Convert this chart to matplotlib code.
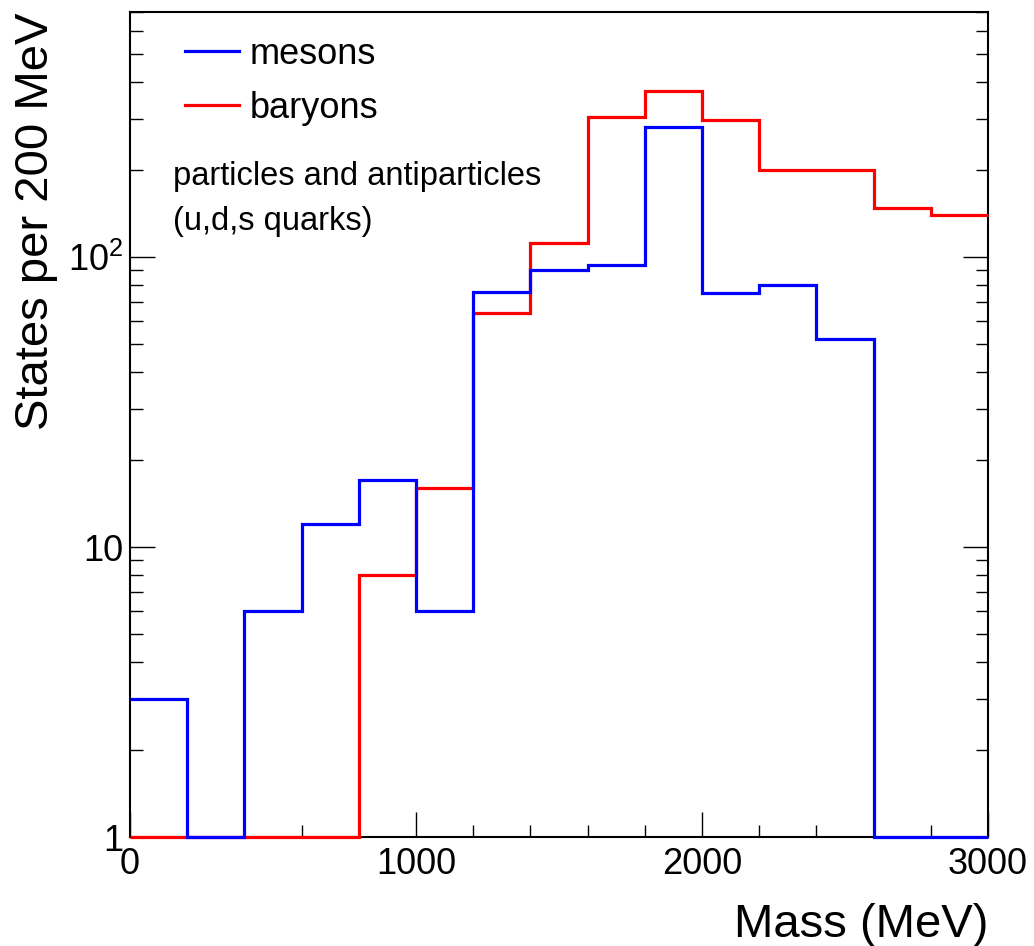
import numpy as np
import matplotlib
matplotlib.use("Agg")
import matplotlib.pyplot as plt
from matplotlib.ticker import FixedLocator, MultipleLocator, NullFormatter, LogLocator

plt.rcParams['font.family'] = ['Liberation Sans', 'DejaVu Sans']
plt.rcParams['mathtext.fontset'] = 'custom'
plt.rcParams['mathtext.rm'] = 'Liberation Sans'
plt.rcParams['mathtext.it'] = 'Liberation Sans'

# 200 MeV bins from 0 to 3000 MeV
bin_edges = np.arange(0, 3001, 200)
mesons = [3, 1, 6, 12, 17, 6, 76, 90, 94, 280, 75, 80, 52, 1, 1]
baryons = [1, 1, 1, 1, 8, 16, 64, 112, 303, 373, 297, 200, 200, 148, 140]

x_ticks = [0, 1000, 2000, 3000]
y_ticks = [1, 10, 100]
y_ticklabels = ['1', '10', '$10^{2}$']

fig = plt.figure(figsize=(10.34, 9.46), dpi=100)
ax = fig.add_axes([130 / 1034, 1 - 837 / 946, 858 / 1034, 825 / 946])

ax.stairs(baryons, bin_edges, baseline=None, color='#ff0000', lw=2.3,
          label='baryons', zorder=3, clip_on=False)
ax.stairs(mesons, bin_edges, baseline=None, color='#0000ff', lw=2.3,
          label='mesons', zorder=4, clip_on=False)

ax.set_yscale('log')
ax.set_xlim(0, 3000)
ax.set_ylim(1, 700)

ax.xaxis.set_major_locator(FixedLocator(x_ticks))
ax.xaxis.set_minor_locator(MultipleLocator(200))
ax.yaxis.set_major_locator(FixedLocator(y_ticks))
ax.yaxis.set_minor_locator(LogLocator(base=10, subs=np.arange(2, 10)))
ax.yaxis.set_minor_formatter(NullFormatter())
ax.set_xticklabels([str(t) for t in x_ticks])
ax.set_yticklabels(y_ticklabels)
ax.get_yticklabels()[2].set_fontsize(21)

ax.tick_params(axis='both', which='both', direction='in', width=1.0, labelsize=26)
ax.tick_params(axis='y', which='both', right=True, pad=5)
ax.tick_params(axis='x', which='both', top=False, pad=7)
ax.tick_params(which='major', length=18)
ax.tick_params(which='minor', length=9)
for s in ax.spines.values():
    s.set_linewidth(1.5)

# legend: mesons first
handles, labels = ax.get_legend_handles_labels()
ax.legend(handles[::-1], labels[::-1], loc='upper left',
          bbox_to_anchor=(0.064, 0.970), frameon=False, fontsize=26,
          handlelength=1.5, handletextpad=0.3, labelspacing=0.53,
          borderpad=0, borderaxespad=0)

ax.text(0.0501, 0.790, 'particles and antiparticles', transform=ax.transAxes,
        fontsize=23.5, va='baseline', ha='left')
ax.text(0.0501, 0.736, '(u,d,s quarks)', transform=ax.transAxes,
        fontsize=23.5, va='baseline', ha='left')

fig.text(988 / 1034, 1 - 937 / 946, 'Mass (MeV)', fontsize=34,
         ha='right', va='baseline')
fig.text(36 / 1034, 1 - 12 / 946, 'States per 200 MeV', fontsize=34,
         rotation=90, ha='center', va='top')

fig.savefig('out.png', dpi=100)
